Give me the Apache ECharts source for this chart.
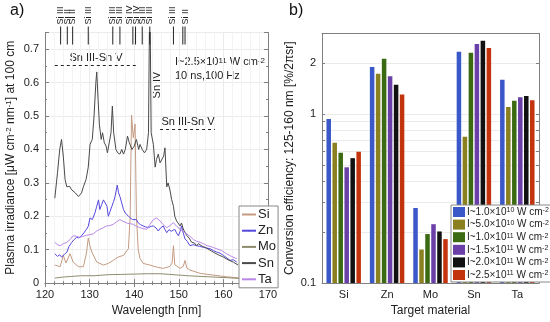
<!DOCTYPE html>
<html><head><meta charset="utf-8">
<script src="https://cdn.jsdelivr.net/npm/echarts/dist/echarts.min.js"></script>
<style>html,body{margin:0;padding:0;background:#fff}#c{width:550px;height:322px}</style>
</head><body><div id="c"></div>
<script>
// ---------- Panel a: spectra ----------
const siWl  = [122.2,123.4,124.1,124.7,125.6,126.3,127.5,128.6,129.3,129.7,130.1,130.5,131.6,133.1,134.2,135.3,136.4,137.6,138.7,139.1,139.4,139.8,140.2,140.5,140.9,141.3,142.0,143.5,144.7,146.5,148.0,148.5,148.8,149.1,150.3,151.0,151.4,151.8,152.5,154.8,157.7,160.7,163.7];
const siVal = [0.054,0.049,0.083,0.060,0.088,0.063,0.049,0.049,0.090,0.135,0.110,0.093,0.063,0.054,0.059,0.068,0.078,0.083,0.103,0.200,0.503,0.435,0.476,0.200,0.100,0.074,0.059,0.054,0.049,0.044,0.050,0.060,0.112,0.055,0.044,0.050,0.068,0.045,0.039,0.029,0.024,0.019,0.015];

const znWl  = [122.2,122.8,123.3,123.7,124.3,124.9,125.4,126.0,126.5,127.1,127.6,128.2,128.7,129.3,129.7,130.1,130.6,131.2,131.6,132.0,132.3,132.7,133.1,133.5,133.9,134.2,134.6,135.0,135.4,135.7,136.2,136.5,136.8,137.2,137.6,138.0,138.3,138.7,139.1,139.6,140.0,140.5,140.9,141.4,142.0,142.6,143.2,143.8,144.3,144.9,145.4,145.9,146.5,146.9,147.3,147.8,148.3,149.1,149.5,149.9,150.3,150.6,151.0,151.4,151.9,152.5,153.2,154.0,154.7,155.5,156.2,157.0,157.8,158.5,159.2,160.0,160.8,161.5,162.2,163.0];
const znVal = [0.088,0.080,0.085,0.078,0.085,0.093,0.110,0.122,0.130,0.137,0.135,0.142,0.150,0.161,0.170,0.195,0.190,0.210,0.230,0.249,0.220,0.235,0.249,0.254,0.230,0.200,0.215,0.230,0.245,0.259,0.293,0.270,0.259,0.240,0.220,0.210,0.205,0.200,0.195,0.190,0.185,0.190,0.180,0.175,0.171,0.168,0.166,0.170,0.171,0.165,0.156,0.165,0.171,0.160,0.151,0.160,0.155,0.161,0.150,0.142,0.155,0.171,0.150,0.132,0.125,0.112,0.115,0.112,0.110,0.107,0.105,0.103,0.097,0.093,0.090,0.083,0.075,0.068,0.070,0.063];

const moWl  = [122.2,124.0,126.0,128.0,131.0,134.0,137.0,140.0,143.0,146.0,148.0,150.0,152.0,155.0,158.0,161.0,163.5];
const moVal = [0.015,0.018,0.020,0.022,0.022,0.025,0.026,0.027,0.028,0.028,0.026,0.024,0.022,0.020,0.018,0.016,0.014];

const snWl  = [122.2,122.8,123.3,123.7,124.1,124.5,124.9,125.5,126.0,126.8,127.5,127.8,128.2,128.6,129.2,129.7,130.1,130.6,131.0,131.4,131.6,131.9,132.2,132.6,132.9,133.3,133.7,134.0,134.4,134.8,135.1,135.4,135.9,136.3,136.8,137.2,137.6,138.0,138.5,138.9,139.5,140.0,140.5,141.0,141.3,141.8,142.3,142.8,143.2,143.5,143.8,144.3,144.7,145.0,145.4,145.8,146.2,146.6,146.9,147.3,147.6,148.0,148.4,148.8,149.1,149.5,149.9,150.3,150.6,151.0,151.4,151.8,152.3,152.9,153.5,154.0,154.4,154.8,155.3,155.9,156.8,157.7,158.8,160.0,161.0,162.2,163.3];
const snVal = [0.254,0.330,0.400,0.430,0.380,0.310,0.288,0.290,0.279,0.270,0.259,0.254,0.270,0.288,0.310,0.347,0.415,0.430,0.500,0.600,0.632,0.550,0.474,0.430,0.450,0.420,0.410,0.390,0.386,0.450,0.530,0.450,0.400,0.390,0.386,0.400,0.386,0.400,0.440,0.420,0.400,0.410,0.430,0.400,0.415,0.400,0.390,0.400,0.450,0.900,0.450,0.415,0.347,0.370,0.386,0.360,0.357,0.380,0.405,0.288,0.300,0.279,0.250,0.230,0.200,0.186,0.190,0.171,0.180,0.162,0.165,0.142,0.135,0.122,0.120,0.112,0.118,0.122,0.110,0.107,0.100,0.093,0.085,0.078,0.070,0.063,0.054];

const taWl  = [122.2,122.8,123.4,124.1,124.9,125.6,126.3,127.0,127.8,128.5,129.3,130.0,130.8,131.5,132.3,133.0,133.8,134.5,135.3,136.0,136.8,137.5,138.3,139.0,139.8,140.5,141.3,142.0,142.8,143.5,144.3,145.0,145.8,146.5,147.3,148.0,148.8,149.5,150.3,151.0,151.8,152.5,153.3,154.0,154.8,155.5,156.3,157.0,157.8,158.5,159.5,160.7,161.8,163.0];
const taVal = [0.122,0.115,0.112,0.118,0.122,0.130,0.142,0.140,0.137,0.140,0.143,0.145,0.147,0.155,0.161,0.165,0.171,0.172,0.176,0.183,0.190,0.185,0.180,0.178,0.176,0.170,0.166,0.163,0.161,0.175,0.190,0.195,0.186,0.175,0.166,0.172,0.181,0.170,0.161,0.155,0.147,0.140,0.130,0.125,0.122,0.118,0.112,0.110,0.106,0.103,0.098,0.088,0.080,0.073];

// Si line markers on the top axis
const markWl    = [123.5,125.0,126.2,129.7,135.2,136.8,139.7,140.3,141.8,143.5,148.8,150.9,151.4];
const markLabWl = [123.4,125.0,126.2,129.7,135.2,136.8,138.9,140.6,141.9,143.5,148.7,150.9,151.4];
const markLab   = ['Si III','Si II','Si II','Si III','Si III','Si III','Si IV','Si IV','Si III','Si III','Si III','','Si II'];

const xTicksA = [120,130,140,150,160,170];
const yTicksA = [0,0.1,0.2,0.3,0.4,0.5,0.6,0.7];

// ---------- Panel b: conversion efficiency ----------
const materials = ['Si','Zn','Mo','Sn','Ta'];
const intensityNames = ['I~1.0×10^10','I~5.0×10^10','I~1.0×10^11','I~1.5×10^11','I~2.0×10^11','I~2.5×10^11'];
const ce_1e10   = [0.935,1.897,0.278,2.33,1.595];
const ce_5e10   = [0.676,1.728,0.158,0.733,1.098];
const ce_1e11   = [0.590,2.120,0.195,2.30,1.196];
const ce_1_5e11 = [0.484,1.669,0.223,2.59,1.254];
const ce_2e11   = [0.548,1.490,0.202,2.71,1.278];
const ce_2_5e11 = [0.597,1.306,0.182,2.46,1.205];
const ceAll = [ce_1e10,ce_5e10,ce_1e11,ce_1_5e11,ce_2e11,ce_2_5e11];
const yLabelsB = [0.1,1,2];
const yTicksB = [0.1,0.2,0.3,0.4,0.5,0.6,0.7,0.8,0.9,1,2,3];

const lineColors = {Si:'#c49a82', Zn:'#5548dc', Mo:'#8e8c6c', Sn:'#4a4a4a', Ta:'#b987e6'};
const barColors = ['#3a58c8','#8a8020','#3c6a12','#6a40a8','#111111','#c3340e'];

const FONT = 'Liberation Sans, Arial, sans-serif';
const zip = (a,b)=>a.map((x,i)=>[x,b[i]]);

function lineSeries(name, wl, val){
  return {name, type:'line', xAxisIndex:0, yAxisIndex:0, data: zip(wl,val),
    symbol:'none', showSymbol:false, clip:true, z:3,
    lineStyle:{width:1, color:lineColors[name]}, itemStyle:{color:lineColors[name]}};
}

const chart = echarts.init(document.getElementById('c'), null, {renderer:'canvas'});

function supFmt(name){
  const m = name.split('^');
  return m[0] + '{sup|' + m[1] + '}' + ' W cm' + '{sup|-2}';
}

const barSeries = ceAll.map((vals,k)=>({
  name: intensityNames[k], type:'custom', xAxisIndex:2, yAxisIndex:2,
  itemStyle:{color:barColors[k]},
  data: vals.map((v,i)=>[i,v]),
  encode:{x:0,y:1},
  renderItem: function(params, api){
    const ci = api.value(0), v = api.value(1);
    const top = api.coord([ci, v]);
    const base = api.coord([ci, 0.1]);
    const band = api.size([1,0])[0];
    const bw = band*0.104, pitch = band*0.138;
    const x = top[0] + (k-2.5)*pitch - bw/2;
    return {type:'rect', shape:{x:x, y:top[1], width:bw, height:base[1]-top[1]},
      style:{fill: api.visual('color')}};
  }
}));

const axisLineStyle = {color:'#808080', width:1};
const gridLine = {color:'#ebebeb'};
const option = {
  animation:false,
  textStyle:{fontFamily:FONT},
  grid:[
    {left:45, top:32.5, width:223, height:255.8},
    {left:322, top:33.3, width:217, height:255}
  ],
  xAxis:[
    {type:'value', gridIndex:0, min:120, max:170, interval:10,
     name:'Wavelength [nm]', nameLocation:'middle', nameGap:18,
     nameTextStyle:{fontSize:12, color:'#222', fontFamily:FONT},
     axisLine:{lineStyle:axisLineStyle}, axisTick:{inside:true, length:4, lineStyle:axisLineStyle},
     minorTick:{show:true, splitNumber:5, length:2, lineStyle:axisLineStyle},
     axisLabel:{fontSize:11, color:'#222', margin:6, fontFamily:FONT},
     splitLine:{show:true, lineStyle:gridLine},
     minorSplitLine:{show:true, lineStyle:{color:'#f3f3f3'}}},
    {type:'value', gridIndex:0, min:120, max:170, interval:10, position:'top',
     axisLine:{lineStyle:axisLineStyle}, axisTick:{inside:true, length:4, lineStyle:axisLineStyle},
     minorTick:{show:true, splitNumber:5, length:2, lineStyle:axisLineStyle},
     axisLabel:{show:false}, splitLine:{show:false}},
    {type:'category', gridIndex:1, data:materials,
     name:'Target material', nameLocation:'middle', nameGap:18,
     nameTextStyle:{fontSize:12, color:'#222', fontFamily:FONT},
     axisLine:{lineStyle:axisLineStyle}, axisTick:{inside:true, length:3, lineStyle:axisLineStyle},
     axisLabel:{fontSize:11, color:'#222', margin:6, fontFamily:FONT},
     splitLine:{show:false}},
    {type:'category', gridIndex:1, data:materials, position:'top',
     axisLine:{lineStyle:axisLineStyle}, axisTick:{inside:true, length:3, lineStyle:axisLineStyle},
     axisLabel:{show:false}, splitLine:{show:false}}
  ],
  yAxis:[
    {type:'value', gridIndex:0, min:0, max:0.75, interval:0.1,
     name:'Plasma irradiance [\u03bcW cm{sup|-2} nm{sup|-1}] at 100 cm', nameLocation:'middle', nameGap:28,
     nameTextStyle:{fontSize:12, color:'#222', fontFamily:FONT, rich:{sup:{fontSize:8, verticalAlign:'top', color:'#222'}}},
     axisLine:{show:true, lineStyle:axisLineStyle}, axisTick:{show:true, inside:true, length:4, lineStyle:axisLineStyle},
     minorTick:{show:true, splitNumber:2, length:2, lineStyle:axisLineStyle},
     axisLabel:{fontSize:11, color:'#222', margin:6, showMaxLabel:false, fontFamily:FONT},
     splitLine:{show:true, lineStyle:gridLine}},
    {type:'value', gridIndex:0, min:0, max:0.75, interval:0.1, position:'right',
     axisLine:{show:true, lineStyle:axisLineStyle}, axisTick:{show:true, inside:true, length:4, lineStyle:axisLineStyle},
     minorTick:{show:true, splitNumber:2, length:2, lineStyle:axisLineStyle},
     axisLabel:{show:false}, splitLine:{show:false}},
    {type:'log', gridIndex:1, min:0.1, max:3, logBase:10,
     name:'Conversion efficiency: 125-160 nm [%/2\u03c0sr]', nameLocation:'middle', nameGap:26,
     nameTextStyle:{fontSize:12, color:'#222', fontFamily:FONT},
     axisLine:{show:true, lineStyle:axisLineStyle},
     axisTick:{show:true, inside:true, length:3, customValues:yTicksB, lineStyle:axisLineStyle},
     axisLabel:{fontSize:11, color:'#222', margin:6, customValues:yLabelsB, fontFamily:FONT},
     splitLine:{show:true, lineStyle:gridLine}},
    {type:'log', gridIndex:1, min:0.1, max:3, logBase:10, position:'right',
     axisLine:{show:true, lineStyle:axisLineStyle},
     axisTick:{show:true, inside:true, length:3, customValues:yTicksB, lineStyle:axisLineStyle},
     axisLabel:{show:false}, splitLine:{show:false}}
  ],
  legend:[
    {data:['Si','Zn','Mo','Sn','Ta'], orient:'vertical', left:239, top:206,
     itemWidth:14, itemHeight:2, itemGap:3.2, padding:[2,2,2,2],
     backgroundColor:'#fff', borderColor:'#888', borderWidth:1,
     textStyle:{fontSize:13, color:'#222', fontFamily:FONT, padding:[0,0,0,-3]}},
    {data:intensityNames, orient:'vertical', left:451, top:205,
     itemWidth:12, itemHeight:10, itemGap:2.6, padding:[2,2,2,2], icon:'rect',
     backgroundColor:'#fff', borderColor:'#888', borderWidth:1,
     formatter: supFmt,
     textStyle:{fontSize:10, color:'#222', fontFamily:FONT, padding:[0,0,0,-3],
       rich:{sup:{fontSize:7, verticalAlign:'top', color:'#222'}}}}
  ],
  series:[
    lineSeries('Si', siWl, siVal),
    lineSeries('Zn', znWl, znVal),
    lineSeries('Mo', moWl, moVal),
    lineSeries('Sn', snWl, snVal),
    lineSeries('Ta', taWl, taVal),
    {type:'custom', xAxisIndex:0, yAxisIndex:0, clip:false, z:5,
     data: markWl.map((w,i)=>[w, markLabWl[i]]),
     encode:{x:0},
     renderItem: function(params, api){
       const w = api.value(0), lw = api.value(1);
       const p = api.coord([w, 0.75]);
       const pl = api.coord([lw, 0.75]);
       const txt = markLab[params.dataIndex];
       const children = [{type:'line', shape:{x1:p[0], y1:p[1]-6, x2:p[0], y2:p[1]+12},
          style:{stroke:'#222', lineWidth:1}}];
       if (txt) children.push({type:'text', x:pl[0], y:p[1]-8, rotation:Math.PI/2,
          style:{text:txt, fontSize:9, fontFamily:FONT, fill:'#222', align:'left', verticalAlign:'middle'}});
       return {type:'group', children};
     }},
    {type:'line', xAxisIndex:0, yAxisIndex:0, data:[], silent:true,
     markLine:{symbol:'none', silent:true, label:{show:false},
       lineStyle:{type:[3,3], color:'#222', width:1},
       data:[
         [{coord:[122.2,0.653]},{coord:[140.6,0.653]}],
         [{coord:[145.8,0.459]},{coord:[158.1,0.459]}]
       ]}}
  ].concat(barSeries),
  graphic:[
    {type:'text', left:10, top:3, style:{text:'a)', fontSize:16, fontFamily:FONT, fill:'#111'}},
    {type:'text', left:289, top:3, style:{text:'b)', fontSize:16, fontFamily:FONT, fill:'#111'}},
    {type:'text', x:96, y:58, style:{text:'Sn III-Sn V', fontSize:11, fontFamily:FONT, fill:'#222', align:'center', verticalAlign:'middle'}},
    {type:'text', x:188, y:121.7, z:10, style:{text:'Sn III-Sn V', fontSize:11, fontFamily:FONT, fill:'#222', align:'center', verticalAlign:'middle'}},
    {type:'text', x:175, y:62, style:{text:'I~2.5\u00d710{sup|11} W cm{sup|-2}', fontSize:11, fontFamily:FONT, fill:'#222', verticalAlign:'middle',
      rich:{sup:{fontSize:8, verticalAlign:'top', fill:'#222'}}}},
    {type:'text', x:175, y:76, style:{text:'10 ns,100 Hz', fontSize:11, fontFamily:FONT, fill:'#222', verticalAlign:'middle'}},
    {type:'text', x:157, y:85, rotation:Math.PI/2, style:{text:'Sn IV', fontSize:11, fontFamily:FONT, fill:'#222', align:'center', verticalAlign:'middle'}}
  ]
};
chart.setOption(option);
</script></body></html>
